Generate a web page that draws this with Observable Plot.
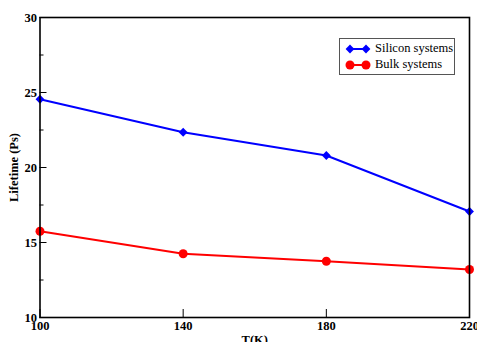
<!DOCTYPE html>
<html><head><meta charset="utf-8">
<script src="https://cdn.jsdelivr.net/npm/d3@7"></script>
<script src="https://cdn.jsdelivr.net/npm/@observablehq/plot@0.6"></script>
<style>
body{margin:0;background:#fff;}
#wrap{position:relative;width:477px;height:342px;overflow:hidden;}
#legend{position:absolute;left:339px;top:38px;width:114px;height:35px;border:1px solid #555;background:#fff;font-family:"Liberation Serif",serif;font-size:12.5px;color:#000;}
.row{position:absolute;left:5px;height:14px;display:flex;align-items:center;white-space:nowrap;}
.row svg{display:block;margin-right:4px;flex:none;}
</style>
</head><body>
<div id="wrap"></div>
<script>
const temps = [100, 140, 180, 220];
const silicon = [24.55, 22.35, 20.8, 17.07];
const bulk = [15.75, 14.25, 13.75, 13.2];
const seriesNames = ["Silicon systems", "Bulk systems"];
const seriesColors = ["#0000ff", "#ff0000"];
const xTicks = [100, 140, 180, 220];
const yTicks = [10, 15, 20, 25, 30];
const yMinor = [12.5, 17.5, 22.5, 27.5];
const xLabel = "T(K)";
const yLabel = "Lifetime (Ps)";

const siData = temps.map((t, i) => ({T: t, v: silicon[i]}));
const buData = temps.map((t, i) => ({T: t, v: bulk[i]}));

const chart = Plot.plot({
  width: 477, height: 342,
  marginLeft: 39.5, marginRight: 8, marginTop: 17, marginBottom: 25,
  x: {domain: [100, 220]},
  y: {domain: [10, 30]},
  style: {fontFamily: "'Liberation Serif', serif", fontSize: "12.5px", background: "#fff"},
  marks: [
    Plot.axisY(yTicks, {tickSize: 0, tickPadding: 3, label: null, fontWeight: "bold", fill: "#000"}),
    Plot.axisY(yTicks, {tickSize: -7, tickFormat: () => "", label: null, stroke: "#000"}),
    Plot.axisY(yMinor, {tickSize: -4, tickFormat: () => "", label: null, stroke: "#000"}),
    Plot.axisX(xTicks, {tickSize: 0, tickPadding: 4, label: null, fontWeight: "bold", fill: "#000"}),
    Plot.axisX(xTicks, {tickSize: -8, tickFormat: () => "", label: null, stroke: "#000"}),
    Plot.line(siData, {x: "T", y: "v", stroke: seriesColors[0], strokeWidth: 2}),
    Plot.dot(siData, {x: "T", y: "v", symbol: "diamond2", r: 4, fill: seriesColors[0], stroke: null}),
    Plot.line(buData, {x: "T", y: "v", stroke: seriesColors[1], strokeWidth: 2}),
    Plot.dot(buData, {x: "T", y: "v", symbol: "circle", r: 4.5, fill: seriesColors[1], stroke: null}),
    Plot.frame({stroke: "#000", strokeWidth: 1.6}),
    Plot.text([yLabel], {frameAnchor: "left", dx: -26, rotate: -90, textAnchor: "middle", lineAnchor: "middle", fontWeight: "bold", fontSize: 12.5, fill: "#000"}),
    Plot.text([xLabel], {frameAnchor: "bottom", dy: 18, textAnchor: "middle", lineAnchor: "top", fontWeight: "bold", fontSize: 12.5, fill: "#000"})
  ]
});
document.getElementById("wrap").appendChild(chart);

const legend = document.createElement("div");
legend.id = "legend";
const symbolsSvg = [
  (c) => `<polygon points="0,-4.4 4.4,0 0,4.4 -4.4,0" fill="${c}"/>`,
  (c) => `<circle r="4.5" fill="${c}"/>`
];
seriesNames.forEach((name, i) => {
  const row = document.createElement("div");
  row.className = "row";
  row.style.top = (i === 0 ? 2.7 : 18.5) + "px";
  const c = seriesColors[i];
  row.innerHTML = `<svg width="26" height="12" viewBox="-1 -6 26 12"><line x1="4" x2="20" y1="0" y2="0" stroke="${c}" stroke-width="2"/><g transform="translate(4,0)">${symbolsSvg[i](c)}</g><g transform="translate(20,0)">${symbolsSvg[i](c)}</g></svg><span>${name}</span>`;
  legend.appendChild(row);
});
document.getElementById("wrap").appendChild(legend);
</script>
</body></html>
